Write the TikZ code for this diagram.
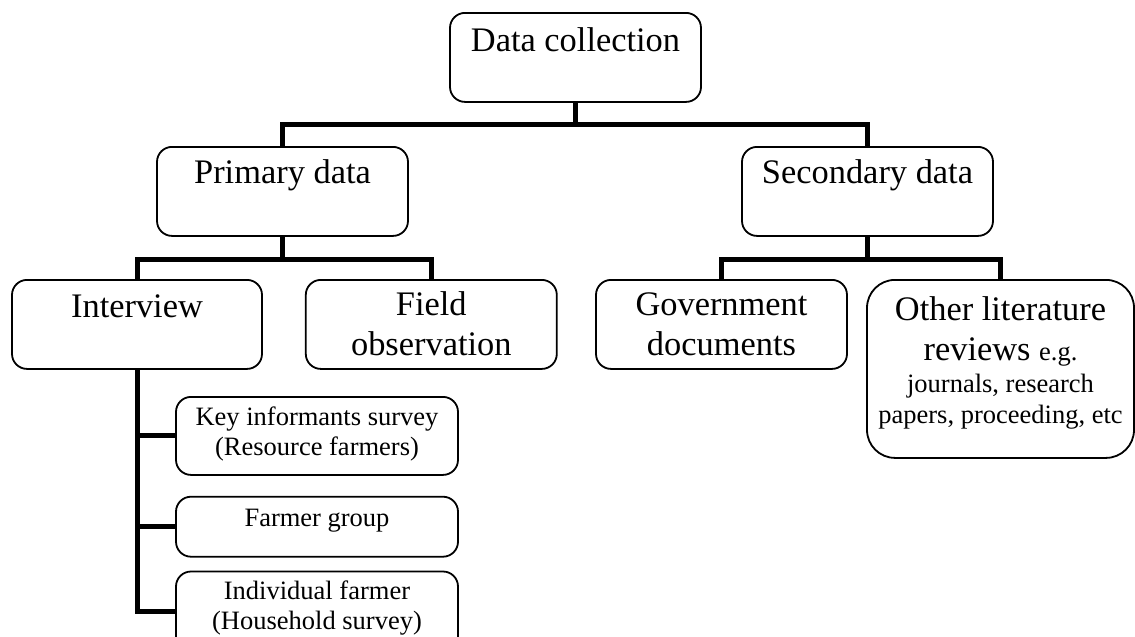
\documentclass[tikz,border=0pt]{standalone}
\usepackage{fontspec}
\setmainfont{Liberation Serif}
\usetikzlibrary{positioning}

\newcommand{\bigtxt}{\fontsize{34.4}{40}\selectfont}
\newcommand{\smalltxt}{\fontsize{26.5}{30}\selectfont}

\tikzset{
	box/.style={draw, line width=1.8pt, rounded corners=15pt, minimum width=251pt,
		inner sep=0pt, align=center, anchor=north, font=\bigtxt},
	subbox/.style={box, minimum width=282pt, font=\smalltxt},
	link/.style={line width=5pt},
}

\begin{document}
\begin{tikzpicture}[x=1pt, y=-1pt]
		\fill[white] (0,0) rectangle (1135,637);
		\useasboundingbox (0,0) rectangle (1135,637);

		% Top and second level
		\node[box, text height=39pt, text depth=50pt] (dc) at (575.5,12) {Data collection};
		\node[box, text height=37pt, text depth=52pt] (prim) at (282.5,146) {Primary data};
		\node[box, text height=37pt, text depth=52pt] (sec) at (867.5,146) {Secondary data};

		% Third level
		\node[box, minimum width=250pt, text height=38pt, text depth=51pt] (int) at (137,279) {Interview};
		\node[box, text height=76pt, text depth=13pt, right=42pt of int] (field) {Field\\ observation};
		\node[box, text height=76pt, text depth=13pt] (gov) at (721.5,279) {Government\\ documents};
		\node[box, minimum width=267pt, rounded corners=28pt, text height=144pt, text depth=34pt] (oth) at (1000.5,279)
			{Other literature\\ reviews {\smalltxt e.g.}\\[-8pt] {\smalltxt journals, research}\\[-9pt] {\smalltxt papers, proceeding, etc}};

		% Interview types
		\node[subbox, text height=59pt, text depth=19pt] (key) at (317,396) {Key informants survey\\ (Resource farmers)};
		\node[subbox, text height=30pt, text depth=30pt, below=20pt of key] (grp) {Farmer group};
		\node[subbox, text height=58pt, text depth=22pt, below=13pt of grp] (ind) {Individual farmer\\ (Household survey)};

		% Connect the boxes
		\draw[link] (dc.south) -- ++(0,22) -| (prim.north);
		\draw[link] (dc.south) -- ++(0,22) -| (sec.north);
		\draw[link] (prim.south) -- ++(0,23) -| (int.north);
		\draw[link] (prim.south) -- ++(0,23) -| (field.north);
		\draw[link] (sec.south) -- ++(0,23) -| (gov.north);
		\draw[link] (sec.south) -- ++(0,23) -| (oth.north);
		\draw[link] (int.south) |- (key.west);
		\draw[link] (int.south) |- (grp.west);
		\draw[link] (int.south) |- (ind.west);
	\end{tikzpicture}
\end{document}
